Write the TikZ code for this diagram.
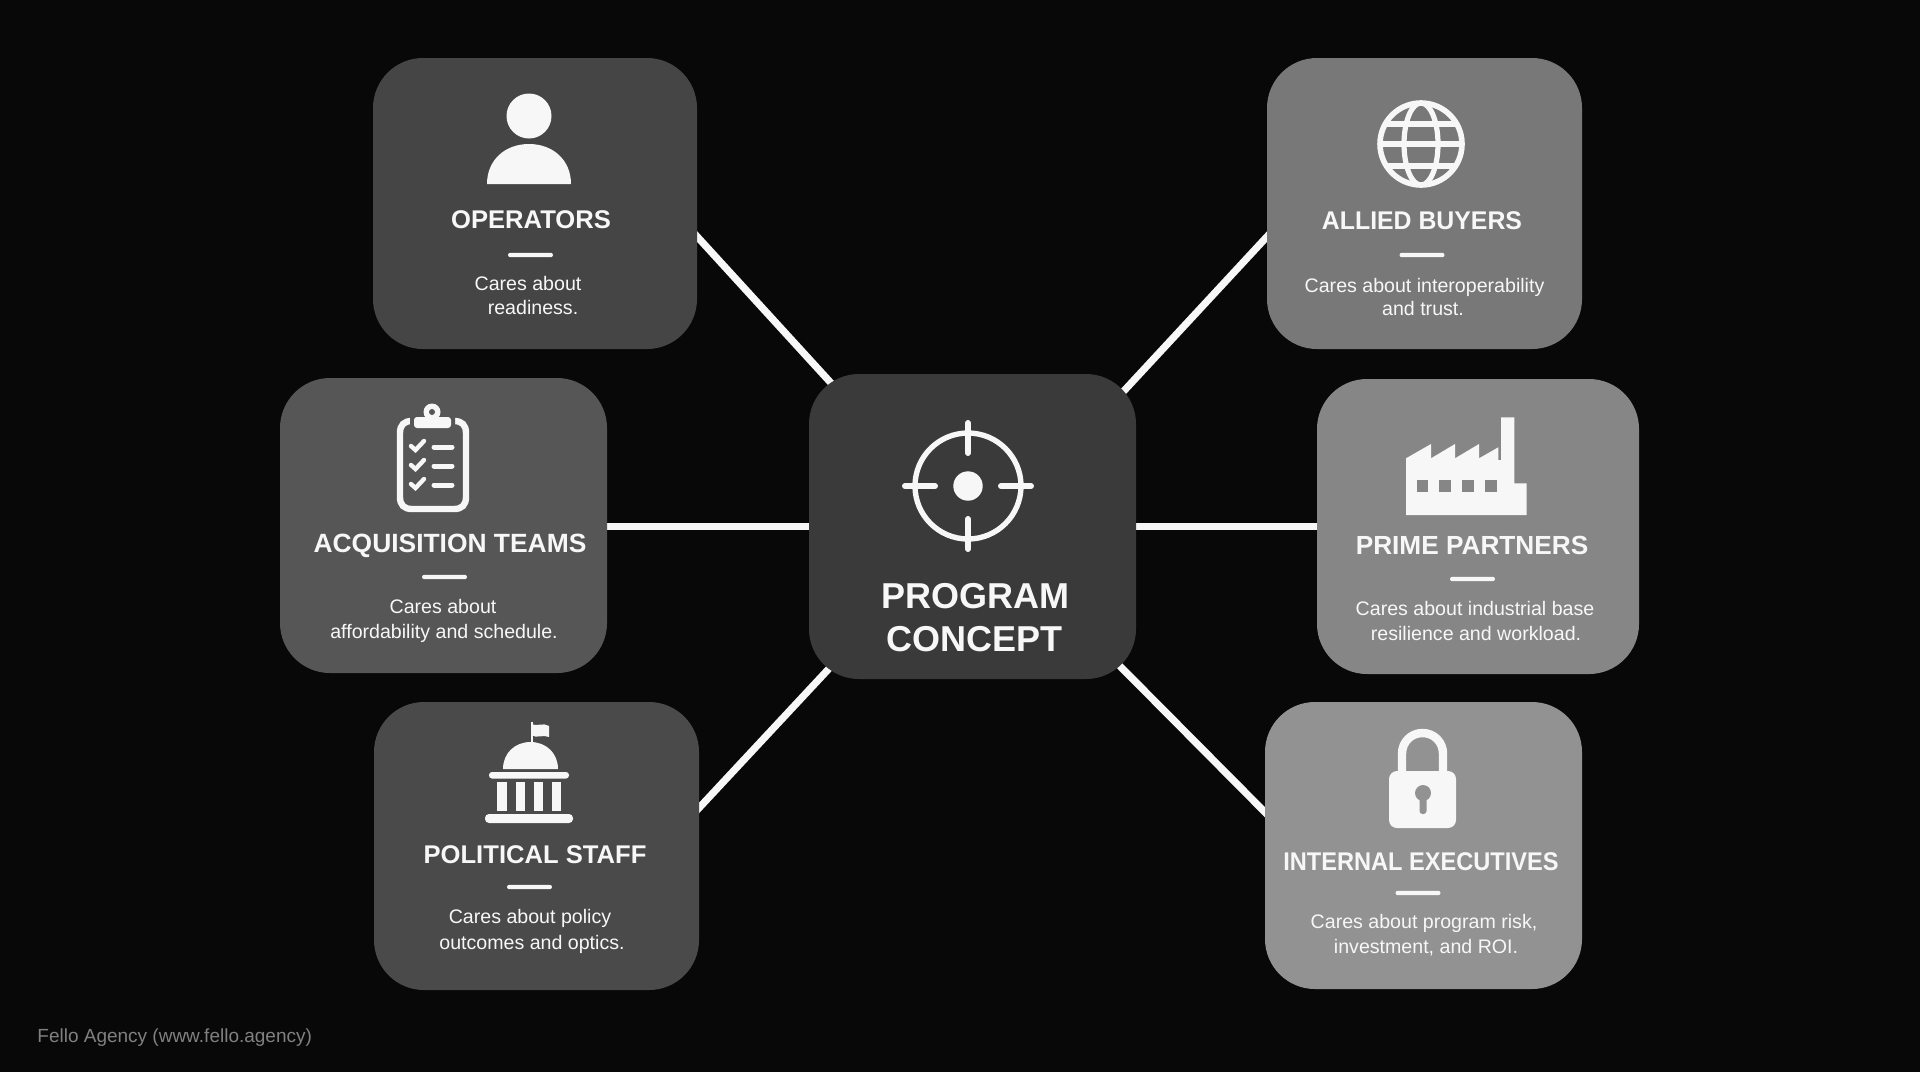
\documentclass[tikz,border=0pt]{standalone}
\usepackage{fontspec}
\setmainfont{Liberation Sans}
\usepackage{xcolor}
\usepackage{graphicx}
\usepackage{tikz}
\usetikzlibrary{calc, positioning}
\pgfdeclarelayer{backdrop}
\pgfdeclarelayer{links}
\pgfsetlayers{backdrop,links,main}
\definecolor{pagebg}{HTML}{080808}
\definecolor{cardcentre}{HTML}{3A3A3A}
\definecolor{cardoper}{HTML}{454545}
\definecolor{cardacq}{HTML}{565656}
\definecolor{cardpol}{HTML}{4A4A4A}
\definecolor{cardally}{HTML}{787878}
\definecolor{cardprime}{HTML}{868686}
\definecolor{cardexec}{HTML}{929292}
\definecolor{inkwhite}{HTML}{F7F7F7}

\begin{document}
\begin{tikzpicture}[x=0.5pt, y=-0.5pt]
	\tikzstyle{card}=[draw=none, rounded corners=25pt, inner sep=0pt, text=white]
	\tikzstyle{link}=[draw=inkwhite, line width=3.6pt]
	\tikzstyle{title}=[anchor=base, inner sep=0pt, text=inkwhite, font=\fontsize{12.8}{15}\selectfont\bfseries]
	\tikzstyle{bigtitle}=[anchor=base, inner sep=0pt, text=inkwhite, font=\fontsize{18}{20}\selectfont\bfseries]
	\tikzstyle{care}=[anchor=base, inner sep=0pt, text=inkwhite, font=\fontsize{9.8}{12}\selectfont]
	\tikzstyle{rulebar}=[fill=inkwhite, minimum width=22.5pt, minimum height=2.2pt, inner sep=0pt, rounded corners=1.1pt]
	\tikzstyle{icon}=[fill=inkwhite, draw=none]
	\tikzstyle{iconline}=[draw=inkwhite, line width=2.8pt, line cap=round]
	
	\useasboundingbox (0,0) rectangle (1920,1072);
	\begin{pgfonlayer}{backdrop}
		\fill[pagebg] (0,0) rectangle (1920,1072);
	\end{pgfonlayer}
	
	%% cards
	\node [card, fill=cardcentre, minimum width=163.5pt, minimum height=152.5pt] (centre) at (972.5,526.5) {};
	\node [card, fill=cardoper, minimum width=162pt, minimum height=145.5pt] (operators) at (535,203.5) {};
	\node [card, fill=cardacq, minimum width=163.5pt, minimum height=147.5pt] (acquisition) at (443.5,525.5) {};
	\node [card, fill=cardpol, minimum width=162.5pt, minimum height=144pt] (political) at (536.5,846) {};
	\node [card, fill=cardally, minimum width=157.5pt, minimum height=145.5pt] (allied) at (1424.5,203.5) {};
	\node [card, fill=cardprime, minimum width=161pt, minimum height=147.5pt] (prime) at (1478,526.5) {};
	\node [card, fill=cardexec, minimum width=158.5pt, minimum height=143.5pt] (internal) at (1423.5,845.5) {};
	
	%% connectors, ends tucked under the cards
	\begin{pgfonlayer}{links}
		\draw[link] ($(centre.north west)+(44,33)$) -- ($(operators.east)+(-20,11.5)$);
		\draw[link] ($(centre.north east)+(-34,40.5)$) -- ($(allied.west)+(20,12)$);
		\draw[link] ($(centre.south west)+(42,-34)$) -- ($(political.east)+(-20,-17)$);
		\draw[link] ($(centre.south east)+(-37,-34)$) -- ($(internal.west)+(20,-13.5)$);
		\draw[link] (centre.west) -- (acquisition.east |- centre.west);
		\draw[link] (centre.east) -- (prime.west |- centre.east);
	\end{pgfonlayer}
	
	%% centre
	\draw[iconline, line width=2.7pt] (968,486) circle [radius=53];
	\fill[icon] (968,486) circle [radius=14.7];
	\foreach \a/\b/\c/\d in {968/423/968/453, 968/519/968/549, 905/486/935/486, 1001/486/1031/486}
	\draw[iconline, line width=3pt] (\a,\b) -- (\c,\d);
	\node [bigtitle] (centre-t1) at (975,608) {PROGRAM};
	\node [bigtitle] (centre-t2) at (974.5,651) {CONCEPT};
	
	%% operators
	\fill[icon] (529,116) circle [radius=22.5];
	\fill[icon] (487,184) .. controls (487,160) and (505,144) .. (529,144) .. controls (553,144) and (571,160) .. (571,184) -- cycle;
	\node [title] (operators-title) at (531,228) {OPERATORS};
	\node [rulebar] (operators-rule) at (530.5,255) {};
	\node [care] (operators-l1) at (528,290) {Cares about};
	\node [care] (operators-l2) at (533,314) {readiness.};
	
	%% acquisition
	\draw[iconline, line width=3.2pt] (400,433) .. controls (400,425) and (404,421) .. (412,421) -- (454,421) .. controls (462,421) and (466,425) .. (466,433) -- (466,497) .. controls (466,505) and (462,509) .. (454,509) -- (412,509) .. controls (404,509) and (400,505) .. (400,497) -- cycle;
	\fill[cardacq, rounded corners=2pt] (410,414) rectangle (455,431);
	\fill[icon, rounded corners=1.5pt] (414,417) rectangle (451,428);
	\fill[icon] (432,412) circle [radius=8.5];
	\fill[cardacq] (432,412) circle [radius=3];
	\foreach \y in {446,465,484} {
		\draw[iconline, line width=2.2pt] (411,\y) -- (415.5,\y+4) -- (424,\y-5);
		\draw[iconline, line width=2.5pt] (434,\y+1) -- (452,\y+1);
	}
	\node [title, font=\fontsize{13.2}{15}\selectfont\bfseries] (acquisition-title) at (450,552) {ACQUISITION TEAMS};
	\node [rulebar] (acquisition-rule) at (444.5,577) {};
	\node [care] (acquisition-l1) at (443,613) {Cares about};
	\node [care] (acquisition-l2) at (444,638) {affordability and schedule.};
	
	%% political
	\draw[icon] (531,743) -- (531,722) -- (533,722) -- (533,743) -- cycle;
	\fill[icon] (531,724) .. controls (537,727) and (543,722) .. (549,726) -- (549,737) .. controls (543,734) and (537,739) .. (531,735) -- cycle;
	\fill[icon] (503,769) .. controls (503,753) and (515,742) .. (530.5,742) .. controls (546,742) and (558,753) .. (558,769) -- cycle;
	\fill[icon, rounded corners=1.5pt] (489,772) rectangle (569,778.5);
	\foreach \x in {497,515.5,533.5,551.5}
	\fill[icon] (\x,782) rectangle (\x+9.5,811);
	\fill[icon, rounded corners=2pt] (485,814) rectangle (573,823);
	\node [title] (political-title) at (535,863) {POLITICAL STAFF};
	\node [rulebar] (political-rule) at (529.5,887) {};
	\node [care] (political-l1) at (530,923) {Cares about policy};
	\node [care] (political-l2) at (532,949) {outcomes and optics.};
	
	%% allied
	\draw[iconline] (1421,144) circle [radius=41];
	\draw[iconline, line width=2.6pt] (1421,144) ellipse [x radius=17, y radius=41];
	\draw[iconline, line width=2.6pt, line cap=butt] (1380,144) -- (1462,144);
	\draw[iconline, line width=2.6pt, line cap=butt] (1385,124) -- (1457,124);
	\draw[iconline, line width=2.6pt, line cap=butt] (1385,166) -- (1457,166);
	\node [title] (allied-title) at (1422,229) {\scalebox{.97}[1]{ALLIED BUYERS}};
	\node [rulebar] (allied-rule) at (1422,255) {};
	\node [care] (allied-l1) at (1424.5,292) {Cares about interoperability};
	\node [care] (allied-l2) at (1423,315) {and trust.};
	
	%% prime
	\fill[icon] (1406,515) -- (1406,458.3) -- (1431,444) -- (1431,458.3) -- (1455,444) -- (1455,458.3) -- (1479,444) -- (1479,458.3) -- (1498.3,447.3) -- (1498.3,460) -- (1501,460) -- (1501,417.3) -- (1514.3,417.3) -- (1514.3,483.3) -- (1526.7,483.3) -- (1526.7,515) -- cycle;
	\foreach \x in {1416.7,1439.3,1462.3,1485.3}
	\fill[cardprime] (\x,480) rectangle (\x+11.7,492.3);
	\node [title, font=\fontsize{13.1}{15}\selectfont\bfseries] (prime-title) at (1472,554) {PRIME PARTNERS};
	\node [rulebar] (prime-rule) at (1472.5,579) {};
	\node [care] (prime-l1) at (1475,615) {Cares about industrial base};
	\node [care] (prime-l2) at (1476,640) {resilience and workload.};
	
	%% internal
	\draw[icon, fill=none, draw=inkwhite, line width=4.2pt] (1402,775) -- (1402,753.7) .. controls (1402,742) and (1411,733) .. (1422.5,733) .. controls (1434,733) and (1443,742) .. (1443,753.7) -- (1443,775);
	\fill[icon, rounded corners=4pt] (1389,771) rectangle (1456,828);
	\fill[cardexec] (1423,793) circle [radius=8];
	\fill[cardexec, rounded corners=1.5pt] (1419.5,795) rectangle (1426.5,814);
	\node [title] (internal-title) at (1421,870) {\scalebox{.922}[1]{INTERNAL EXECUTIVES}};
	\node [rulebar] (internal-rule) at (1418,893) {};
	\node [care] (internal-l1) at (1424,928) {Cares about program risk,};
	\node [care] (internal-l2) at (1426,953) {investment, and ROI.};
	
	\node [anchor=base west, inner sep=0pt, text=gray, font=\fontsize{9.5}{12}\selectfont] (footer) at (37,1042) {Fello Agency (www.fello.agency)};
\end{tikzpicture}
\end{document}
